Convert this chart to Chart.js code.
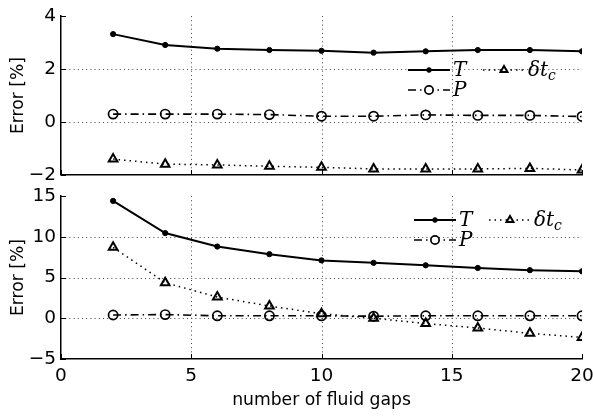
<!DOCTYPE html>
<html>
<head>
<meta charset="utf-8">
<script src="https://cdn.jsdelivr.net/npm/chart.js@4/dist/chart.umd.min.js"></script>
<style>
  html, body { margin: 0; padding: 0; background: #fff; }
  #wrap { position: relative; width: 593px; height: 416px; }
  #wrap canvas { position: absolute; left: 0; top: 0; }
</style>
</head>
<body>
<div id="wrap">
  <canvas id="topChart" width="593" height="416"></canvas>
  <canvas id="bottomChart" width="593" height="416"></canvas>
</div>
<script>
// number of fluid gaps
const gaps = [2, 4, 6, 8, 10, 12, 14, 16, 18, 20];

// upper panel
const topT  = [3.32, 2.91, 2.77, 2.72, 2.69, 2.62, 2.67, 2.72, 2.72, 2.67];
const topP  = [0.30, 0.30, 0.30, 0.28, 0.22, 0.22, 0.27, 0.25, 0.25, 0.21];
const topDt = [-1.40, -1.59, -1.62, -1.67, -1.71, -1.77, -1.77, -1.77, -1.75, -1.81];

// lower panel
const botT  = [14.4, 10.45, 8.8, 7.86, 7.1, 6.8, 6.5, 6.17, 5.9, 5.76];
const botP  = [0.40, 0.45, 0.30, 0.30, 0.30, 0.25, 0.30, 0.30, 0.30, 0.30];
const botDt = [8.7, 4.36, 2.6, 1.5, 0.55, 0.0, -0.65, -1.2, -1.85, -2.35];

const xTicks = [0, 5, 10, 15, 20];
const yTicksTop = [-2, 0, 2, 4];
const yTicksBottom = [-5, 0, 5, 10, 15];

const tickFont = { family: 'DejaVu Sans', size: 18.5 };
const labelFont = { family: 'DejaVu Sans', size: 17.2 };

function seriesSets(t, p, dt) {
    return [
        {
            label: 'T', data: t,
            borderColor: '#000', backgroundColor: '#000',
            borderWidth: 2, pointRadius: 2.6, pointStyle: 'circle',
            pointBorderWidth: 1
        },
        {
            label: 'P', data: p,
            borderColor: '#000', backgroundColor: 'rgba(0,0,0,0)',
            borderWidth: 1.6, borderDash: [8, 4, 1.5, 4],
            pointRadius: 4.6, pointStyle: 'circle', pointBorderWidth: 1.7
        },
        {
            label: 'dt', data: dt,
            borderColor: '#000', backgroundColor: 'rgba(0,0,0,0)',
            borderWidth: 1.5, borderDash: [1.5, 4],
            pointRadius: 5, pointStyle: 'triangle', pointBorderWidth: 2
        }
    ];
}

// dotted grid at interior ticks plus inward tick marks
const gridPlugin = {
    id: 'matGrid',
    beforeDatasetsDraw(chart) {
        const { ctx, chartArea: a } = chart;
        const xs = chart.scales.x, ys = chart.scales.y;
        ctx.save();
        ctx.strokeStyle = '#444';
        ctx.lineWidth = 1;
        ctx.setLineDash([1, 3.2]);
        xs.ticks.forEach(t => {
            if (t.value === xs.min || t.value === xs.max) return;
            const px = Math.round(xs.getPixelForValue(t.value)) + 0.5;
            ctx.beginPath(); ctx.moveTo(px, a.top); ctx.lineTo(px, a.bottom); ctx.stroke();
        });
        ys.ticks.forEach(t => {
            if (t.value === ys.min || t.value === ys.max) return;
            const py = Math.round(ys.getPixelForValue(t.value)) + 0.5;
            ctx.beginPath(); ctx.moveTo(a.left, py); ctx.lineTo(a.right, py); ctx.stroke();
        });
        ctx.setLineDash([]);
        ctx.strokeStyle = '#000';
        xs.ticks.forEach(t => {
            const px = Math.round(xs.getPixelForValue(t.value)) + 0.5;
            ctx.beginPath(); ctx.moveTo(px, a.bottom); ctx.lineTo(px, a.bottom - 5); ctx.stroke();
        });
        ys.ticks.forEach(t => {
            const py = Math.round(ys.getPixelForValue(t.value)) + 0.5;
            ctx.beginPath(); ctx.moveTo(a.left, py); ctx.lineTo(a.left + 5, py); ctx.stroke();
        });
        ctx.restore();
    }
};

// two-row legend with italic symbols
const legendPlugin = {
    id: 'matLegend',
    afterDatasetsDraw(chart, args, opts) {
        const { ctx } = chart;
        const ds = chart.data.datasets;
        const items = [
            { d: ds[0], x: opts.x1, y: opts.y1, text: 'T' },
            { d: ds[2], x: opts.x2, y: opts.y1, text: 'δt', sub: 'c' },
            { d: ds[1], x: opts.x1, y: opts.y2, text: 'P' }
        ];
        ctx.save();
        items.forEach(it => {
            const d = it.d;
            ctx.strokeStyle = '#000';
            ctx.lineWidth = d.borderWidth;
            ctx.setLineDash(d.borderDash || []);
            ctx.beginPath(); ctx.moveTo(it.x, it.y); ctx.lineTo(it.x + opts.len, it.y); ctx.stroke();
            ctx.setLineDash([]);
            const r = d.pointStyle === 'triangle' ? d.pointRadius * 0.8 : d.pointRadius * 0.9;
            ctx.fillStyle = d.backgroundColor === '#000' ? '#000' : '#fff';
            ctx.lineWidth = d.pointBorderWidth;
            Chart.helpers.drawPoint(ctx, {
                pointStyle: d.pointStyle, radius: r, borderWidth: d.pointBorderWidth
            }, it.x + opts.len / 2, it.y);
            ctx.fillStyle = '#000';
            ctx.font = 'italic 20px "DejaVu Serif"';
            ctx.textBaseline = 'middle';
            ctx.textAlign = 'left';
            const tx = it.x + opts.len + 3;
            ctx.fillText(it.text, tx, it.y + 1);
            if (it.sub) {
                const w = ctx.measureText(it.text).width;
                ctx.font = 'italic 14px "DejaVu Serif"';
                ctx.fillText(it.sub, tx + w, it.y + 6);
            }
        });
        ctx.restore();
    }
};

function makeChart(id, t, p, dt, yTicks, showX, layoutPad, legendPos) {
    return new Chart(document.getElementById(id), {
        type: 'line',
        data: { labels: gaps, datasets: seriesSets(t, p, dt) },
        options: {
            responsive: false,
            animation: false,
            events: [],
            layout: { padding: layoutPad },
            plugins: {
                legend: { display: false },
                tooltip: { enabled: false },
                matLegend: legendPos
            },
            scales: {
                x: {
                    type: 'linear', min: 0, max: 20,
                    afterBuildTicks: s => { s.ticks = xTicks.map(v => ({ value: v })); },
                    afterFit: s => {
                        s.height = showX ? 52 : 0;
                        s.paddingLeft = 0;
                        s.paddingRight = 0;
                    },
                    grid: { display: false, drawTicks: false },
                    border: { display: true, color: '#000', width: 1.5 },
                    ticks: { display: showX, color: '#000', font: tickFont, padding: 6, maxRotation: 0 },
                    title: {
                        display: showX, text: 'number of fluid gaps',
                        color: '#000', font: labelFont, padding: { top: 0, bottom: 0 }
                    }
                },
                y: {
                    min: yTicks[0], max: yTicks[yTicks.length - 1],
                    afterBuildTicks: s => { s.ticks = yTicks.map(v => ({ value: v })); },
                    afterFit: s => { s.width = 61; },
                    grid: { display: false, drawTicks: false },
                    border: { display: true, color: '#000', width: 1.5 },
                    ticks: {
                        color: '#000', font: tickFont, padding: 5,
                        callback: v => String(v).replace('-', '\u2212')
                    },
                    title: {
                        display: true, text: 'Error [%]',
                        color: '#000', font: labelFont, padding: { top: 8, bottom: 0 }
                    }
                }
            }
        },
        plugins: [gridPlugin, legendPlugin]
    });
}

makeChart('topChart', topT, topP, topDt, yTicksTop, false,
    { left: 0, top: 12, right: 11, bottom: 241 },
    { x1: 408, x2: 483, y1: 70, y2: 90, len: 42 });

makeChart('bottomChart', botT, botP, botDt, yTicksBottom, true,
    { left: 0, top: 196, right: 11, bottom: 5 },
    { x1: 414, x2: 489, y1: 220, y2: 240, len: 42 });
</script>
</body>
</html>
